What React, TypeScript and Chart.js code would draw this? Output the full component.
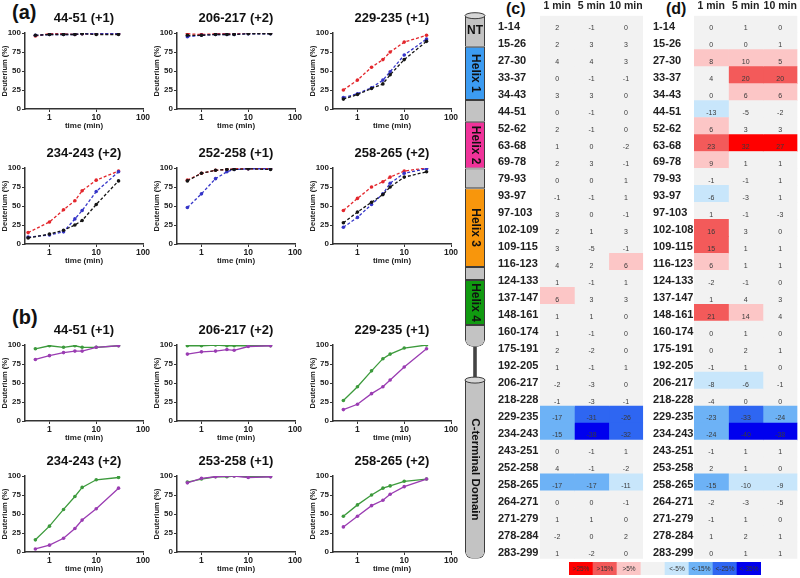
import React, { useEffect, useRef } from 'react';
import { Chart, registerables } from 'chart.js';
Chart.register(...registerables);

// ---------------- data ----------------
const TIMES = [0.5, 1, 2, 3.5, 5, 10, 30];
const TIMES_EARLY = [0.35, 1, 2, 3.5, 5, 10, 30];
const X_TICKS = [1, 10, 100];
const Y_TICKS = [0, 25, 50, 75, 100];

const A_TITLES = ['44-51 (+1)', '206-217 (+2)', '229-235 (+1)', '234-243 (+2)', '252-258 (+1)', '258-265 (+2)'];
const A_RED = [
  [96, 99, 99, 98, 99, 99, 99],
  [99, 98, 99, 99, 99, 100, 100],
  [25, 38, 55, 65, 75, 88, 97],
  [15, 29, 45, 57, 70, 84, 96],
  [84, 93, 97, 98, 99, 99, 99],
  [44, 60, 75, 82, 88, 96, 100],
];
const A_BLUE = [
  [97, 98, 98, 98, 99, 99, 99],
  [95, 97, 98, 98, 98, 99, 99],
  [15, 20, 28, 38, 49, 71, 92],
  [9, 12, 16, 33, 44, 69, 95],
  [48, 66, 86, 95, 98, 99, 99],
  [22, 35, 52, 66, 80, 93, 99],
];
const A_BLACK = [
  [97, 98, 98, 98, 99, 98, 98],
  [97, 97, 98, 98, 98, 99, 99],
  [13, 19, 27, 33, 45, 65, 89],
  [8, 13, 18, 25, 31, 52, 83],
  [83, 93, 97, 98, 98, 99, 98],
  [28, 42, 55, 65, 75, 88, 95],
];

const B_TITLES = ['44-51 (+1)', '206-217 (+2)', '229-235 (+1)', '234-243 (+2)', '253-258 (+1)', '258-265 (+2)'];
const B_GREEN = [
  [95, 99, 97, 99, 97, 97, 99],
  [99, 99, 100, 99, 99, 99, 99],
  [27, 45, 66, 82, 88, 96, 100],
  [16, 34, 56, 73, 85, 95, 98],
  [92, 96, 99, 99, 100, 99, 99],
  [47, 62, 75, 84, 87, 93, 96],
];
const B_PURPLE = [
  [81, 86, 90, 92, 92, 97, 99],
  [88, 91, 92, 94, 93, 98, 99],
  [15, 22, 36, 45, 54, 71, 95],
  [4, 9, 18, 31, 42, 57, 84],
  [91, 97, 99, 100, 100, 98, 99],
  [33, 47, 61, 68, 76, 86, 96],
];

const HEADERS = ['1 min', '5 min', '10 min'];
const PEPTIDES_C = ['1-14', '15-26', '27-30', '33-37', '34-43', '44-51', '52-62', '63-68', '69-78', '79-93', '93-97', '97-103', '102-109', '109-115', '116-123', '124-133', '137-147', '148-161', '160-174', '175-191', '192-205', '206-217', '218-228', '229-235', '234-243', '243-251', '252-258', '258-265', '264-271', '271-279', '278-284', '283-299'];
const C_1MIN = [2, 2, 4, 0, 3, 0, 2, 1, 2, 0, -1, 3, 2, 3, 4, 1, 6, 1, 1, 2, 1, -2, -1, -17, -15, 0, 4, -17, 0, 1, -2, 1];
const C_5MIN = [-1, 3, 4, -1, 3, -1, -1, 0, 3, 0, -1, 0, 1, -5, 2, -1, 3, 1, -1, -2, -1, -3, -3, -31, -38, -1, -1, -17, 0, 1, 0, -2];
const C_10MIN = [0, 3, 3, -1, 0, 0, 0, -2, -1, 1, 1, -1, 3, -1, 6, 1, 3, 0, 0, 0, 1, 0, -1, -26, -32, 1, -2, -11, -1, 0, 2, 0];

const PEPTIDES_D = ['1-14', '15-26', '27-30', '33-37', '34-43', '44-51', '52-62', '63-68', '69-78', '79-93', '93-97', '97-103', '102-108', '109-115', '116-123', '124-133', '137-147', '148-161', '160-174', '175-191', '192-205', '206-217', '218-228', '229-235', '234-243', '243-251', '253-258', '258-265', '264-271', '271-279', '278-284', '283-299'];
const D_1MIN = [0, 0, 8, 4, 0, -13, 6, 23, 9, -1, -6, 1, 16, 15, 6, -2, 1, 21, 0, 0, -1, -8, -4, -23, -24, -1, 2, -15, -2, -1, 1, 0];
const D_5MIN = [1, 0, 10, 20, 6, -5, 3, 32, 1, -1, -3, -1, 3, 1, 1, -1, 4, 14, 1, 2, 1, -6, 0, -33, -40, 1, 1, -10, -3, 1, 2, 1];
const D_10MIN = [0, 1, 5, 20, 6, -2, 3, 27, 1, 1, 1, -3, 0, 1, 1, 0, 3, 4, 0, 1, 0, -1, 0, -24, -38, 1, 0, -9, -5, 0, 1, 1];

const LEGEND_LABELS = ['>25%', '>15%', '>5%', '', '<-5%', '<-15%', '<-25%', '<-35%'];

// schematic segments, in heat-map row units (0 = top of first row, 32 = bottom of last row)
const SEG_LABELS = ['NT', 'Helix 1', 'loop', 'Helix 2', 'loop', 'Helix 3', 'loop', 'Helix 4', 'loop', 'linker', 'C-terminal Domain'];
const SEG_FROM = [0, 1.83, 4.97, 6.25, 9.0, 10.17, 14.8, 15.57, 18.23, 19.5, 21.47];
const SEG_TO = [1.83, 4.97, 6.25, 9.0, 10.17, 14.8, 15.57, 18.23, 19.5, 21.47, 32];

// ---------------- styles ----------------
const SANS = '"Liberation Sans", Arial, sans-serif';
const LEGEND_COLORS = ['#ff0000', '#f35a5a', '#fcc6c6', '#f2f2f2', '#c8e6fb', '#6db2f6', '#2e66f2', '#0000ee'];
const SEG_COLORS: Record<string, string> = {
  NT: '#c3c3c3', loop: '#c3c3c3', 'Helix 1': '#3c9cf2', 'Helix 2': '#f0339a', 'Helix 3': '#f8960c',
  'Helix 4': '#109a10', linker: '#444444', 'C-terminal Domain': '#c3c3c3',
};
const RED = '#e3262c';
const BLUE = '#3535c8';
const BLACK = '#151515';
const GREEN = '#3c9a3c';
const PURPLE = '#9a3cb2';

function classOf(v: number) {
  if (v >= 25) return 0;
  if (v >= 15) return 1;
  if (v >= 5) return 2;
  if (v <= -35) return 7;
  if (v <= -25) return 6;
  if (v <= -15) return 5;
  if (v < -5) return 4;
  return 3;
}

const panelTitlePlugin = {
  id: 'panelTitle',
  afterDraw(chart: any) {
    const { ctx, chartArea } = chart;
    ctx.save();
    ctx.font = `bold 13px ${SANS}`;
    ctx.fillStyle = '#111';
    ctx.textAlign = 'center';
    ctx.textBaseline = 'middle';
    ctx.fillText(chart.config.options.panelTitle, (chartArea.left + chartArea.right) / 2, chartArea.top - 15);
    ctx.restore();
  },
};

function lineConfig(title: string, times: number[], series: { values: number[]; color: string; dashed: boolean }[]) {
  const axisGrid = { display: true, drawOnChartArea: false, drawTicks: true, tickLength: 3, color: '#333', lineWidth: 1 };
  const axisBorder = { display: true, color: '#333', width: 1.5 };
  return {
    type: 'line',
    data: {
      datasets: series.map((s) => ({
        data: times.map((t, i) => ({ x: t, y: s.values[i] })),
        borderColor: s.color,
        backgroundColor: s.color,
        borderWidth: 1.3,
        borderDash: s.dashed ? [3, 2] : [],
        pointRadius: 1.8,
        pointBorderWidth: 0,
        pointHoverRadius: 0,
        tension: 0,
        fill: false,
      })),
    },
    options: {
      panelTitle: title,
      animation: false,
      responsive: false,
      events: [],
      layout: { padding: { left: 0, right: 14, top: 28, bottom: 0 } },
      plugins: { legend: { display: false }, tooltip: { enabled: false }, title: { display: false } },
      scales: {
        x: {
          type: 'logarithmic',
          min: 0.3,
          max: 100,
          afterBuildTicks: (s: any) => { s.ticks = X_TICKS.map((v) => ({ value: v })); },
          afterFit: (s: any) => { s.height = 22; },
          ticks: { callback: (v: any) => String(v), color: '#222', font: { family: SANS, size: 8.5, weight: 'bold' }, padding: 1, maxRotation: 0, autoSkip: false },
          grid: axisGrid,
          border: axisBorder,
          title: { display: true, text: 'time (min)', color: '#222', font: { family: SANS, size: 8, weight: 'bold' }, padding: 0 },
        },
        y: {
          min: 0,
          max: 100,
          afterBuildTicks: (s: any) => { s.ticks = Y_TICKS.map((v) => ({ value: v })); },
          afterFit: (s: any) => { s.width = 25; },
          ticks: { color: '#222', font: { family: SANS, size: 8, weight: 'bold' }, padding: 1 },
          grid: axisGrid,
          border: axisBorder,
          title: { display: true, text: 'Deuterium (%)', color: '#222', font: { family: SANS, size: 7.5, weight: 'bold' }, padding: 0 },
        },
      },
    },
    plugins: [panelTitlePlugin],
  };
}

const cellTextPlugin = {
  id: 'cellText',
  afterDatasetsDraw(chart: any) {
    const ctx = chart.ctx;
    const xs = chart.scales.x;
    const ys = chart.scales.y;
    const cols = chart.config.options.cellValues as number[][];
    ctx.save();
    ctx.fillStyle = '#3a3a3a';
    ctx.font = `7px ${SANS}`;
    ctx.textAlign = 'center';
    ctx.textBaseline = 'middle';
    cols.forEach((col, c) => {
      col.forEach((v, r) => {
        ctx.fillText(String(v), xs.getPixelForValue(c + 0.5), ys.getPixelForValue(r) + 4);
      });
    });
    ctx.restore();
  },
};

function heatConfig(labels: string[], cols: number[][], yWidth: number, padRight: number) {
  return {
    type: 'bar',
    data: {
      labels,
      datasets: cols.map((col, c) => ({
        data: col.map(() => [c, c + 1]),
        backgroundColor: col.map((v) => LEGEND_COLORS[classOf(v)]),
        borderWidth: 0,
        grouped: false,
        barPercentage: 1,
        categoryPercentage: 1,
      })),
    },
    options: {
      cellValues: cols,
      indexAxis: 'y',
      animation: false,
      responsive: false,
      events: [],
      layout: { padding: { left: 0, right: padRight, top: 0, bottom: 19.2 } },
      plugins: { legend: { display: false }, tooltip: { enabled: false } },
      scales: {
        x: {
          type: 'linear',
          position: 'top',
          min: 0,
          max: 3,
          afterBuildTicks: (s: any) => { s.ticks = [0.5, 1.5, 2.5].map((v) => ({ value: v })); },
          afterFit: (s: any) => { s.height = 15.7; },
          ticks: { callback: (_v: any, i: number) => HEADERS[i], color: '#222', font: { family: SANS, size: 10.5, weight: 'bold' }, padding: 3, maxRotation: 0, autoSkip: false },
          grid: { display: false, drawTicks: false },
          border: { display: false },
        },
        y: {
          type: 'category',
          afterFit: (s: any) => { s.width = yWidth; },
          ticks: { crossAlign: 'far', labelOffset: 2.5, color: '#222', font: { family: SANS, size: 11, weight: 'bold' }, padding: 0, autoSkip: false },
          grid: { display: false, drawTicks: false },
          border: { display: false },
        },
      },
    },
    plugins: [cellTextPlugin],
  };
}

const legendTextPlugin = {
  id: 'legendText',
  afterDatasetsDraw(chart: any) {
    const ctx = chart.ctx;
    const xs = chart.scales.x;
    const ys = chart.scales.y;
    ctx.save();
    ctx.fillStyle = '#333';
    ctx.font = `6.5px ${SANS}`;
    ctx.textAlign = 'center';
    ctx.textBaseline = 'middle';
    LEGEND_LABELS.forEach((t, i) => {
      ctx.fillText(t, xs.getPixelForValue(i), ys.getPixelForValue(0.5) + 1);
    });
    ctx.restore();
  },
};

function legendConfig() {
  return {
    type: 'bar',
    data: {
      labels: LEGEND_LABELS,
      datasets: [{
        data: LEGEND_LABELS.map(() => [0, 1]),
        backgroundColor: LEGEND_LABELS.map((_, i) => LEGEND_COLORS[i]),
        borderWidth: 0,
        barPercentage: 1,
        categoryPercentage: 1,
      }],
    },
    options: {
      animation: false,
      responsive: false,
      events: [],
      layout: { padding: 0 },
      plugins: { legend: { display: false }, tooltip: { enabled: false } },
      scales: { x: { display: false }, y: { display: false, min: 0, max: 1 } },
    },
    plugins: [legendTextPlugin],
  };
}

const schematicPlugin = {
  id: 'schematic',
  afterDatasetsDraw(chart: any) {
    const ctx = chart.ctx;
    ctx.save();
    chart.data.datasets.forEach((ds: any, i: number) => {
      const bar = chart.getDatasetMeta(i).data[0];
      const { x, y, base, width } = bar.getProps(['x', 'y', 'base', 'width'], true);
      const top = Math.min(y, base);
      const bottom = Math.max(y, base);
      const name = ds.label;
      const prev = i > 0 ? chart.data.datasets[i - 1].label : null;
      if (name !== 'linker' && (prev === null || prev === 'linker')) {
        ctx.beginPath();
        ctx.ellipse(x, top, width / 2, 3, 0, 0, Math.PI * 2);
        ctx.fillStyle = '#d6d6d6';
        ctx.fill();
        ctx.lineWidth = 1;
        ctx.strokeStyle = '#3c3c3c';
        ctx.stroke();
      }
      ctx.fillStyle = '#111';
      ctx.textAlign = 'center';
      ctx.textBaseline = 'middle';
      const cy = (top + bottom) / 2;
      if (name === 'NT') {
        ctx.font = `bold 12px ${SANS}`;
        ctx.fillText(name, x, cy - 1);
      } else if (name.startsWith('Helix') || name === 'C-terminal Domain') {
        ctx.save();
        ctx.translate(x + 0.5, cy);
        ctx.rotate(Math.PI / 2);
        ctx.font = name === 'C-terminal Domain' ? `bold 11.5px ${SANS}` : `bold 12px ${SANS}`;
        ctx.fillText(name, 0, 0);
        ctx.restore();
      }
    });
    ctx.restore();
  },
};

function schematicConfig() {
  return {
    type: 'bar',
    data: {
      labels: ['protein'],
      datasets: SEG_LABELS.map((name, i) => {
        const next = SEG_LABELS[i + 1];
        const isEnd = name !== 'linker' && (next === undefined || next === 'linker');
        return {
          label: name,
          data: [[SEG_FROM[i], SEG_TO[i]]],
          backgroundColor: SEG_COLORS[name],
          borderColor: '#3c3c3c',
          borderWidth: name === 'linker' ? 0 : 1,
          borderSkipped: false,
          borderRadius: isEnd ? { topLeft: 0, topRight: 0, bottomLeft: 7, bottomRight: 7 } : 0,
          grouped: false,
          barPercentage: name === 'linker' ? 0.09 : 0.5,
          categoryPercentage: 1,
        };
      }),
    },
    options: {
      animation: false,
      responsive: false,
      events: [],
      layout: { padding: { top: 15.7, bottom: 19.2, left: 0, right: 0 } },
      plugins: { legend: { display: false }, tooltip: { enabled: false } },
      scales: {
        x: { display: false },
        y: { display: false, reverse: true, min: 0, max: 32 },
      },
    },
    plugins: [schematicPlugin],
  };
}

function ChartBox({ left, top, width, height, make }: { left: number; top: number; width: number; height: number; make: () => any }) {
  const ref = useRef<HTMLCanvasElement | null>(null);
  useEffect(() => {
    const chart = new Chart(ref.current as HTMLCanvasElement, make());
    return () => chart.destroy();
  }, []);
  return <canvas ref={ref} width={width} height={height} style={{ position: 'absolute', left, top, width, height }} />;
}

const COL_LEFT = [0, 152, 308];
const ROW_TOP_A = [5, 140];
const ROW_TOP_B = [317, 448];

const labelStyle = (left: number, top: number, size: number): React.CSSProperties => ({
  position: 'absolute', left, top, fontFamily: SANS, fontWeight: 'bold', fontSize: size, lineHeight: `${size + 2}px`, color: '#111',
});

export default function App() {
  const aCharts = A_TITLES.map((t, i) => (
    <ChartBox
      key={'a' + i}
      left={COL_LEFT[i % 3]}
      top={ROW_TOP_A[Math.floor(i / 3)]}
      width={157}
      height={126}
      make={() => lineConfig(t, i === 3 ? TIMES_EARLY : TIMES, [
        { values: A_BLACK[i], color: BLACK, dashed: true },
        { values: A_BLUE[i], color: BLUE, dashed: true },
        { values: A_RED[i], color: RED, dashed: true },
      ])}
    />
  ));
  const bCharts = B_TITLES.map((t, i) => (
    <ChartBox
      key={'b' + i}
      left={COL_LEFT[i % 3]}
      top={ROW_TOP_B[Math.floor(i / 3)]}
      width={157}
      height={126}
      make={() => lineConfig(t, TIMES, [
        { values: B_PURPLE[i], color: PURPLE, dashed: false },
        { values: B_GREEN[i], color: GREEN, dashed: false },
      ])}
    />
  ));
  return (
    <div style={{ position: 'absolute', left: 0, top: 0, width: 800, height: 578, background: '#fff', overflow: 'hidden' }}>
      <div style={labelStyle(12, 1, 20)}>(a)</div>
      <div style={labelStyle(12, 306, 20)}>(b)</div>
      <div style={labelStyle(506, 0, 16)}>(c)</div>
      <div style={labelStyle(666, 0, 16)}>(d)</div>
      {aCharts}
      {bCharts}
      <ChartBox left={455} top={0} width={40} height={578} make={schematicConfig} />
      <ChartBox left={498} top={0} width={148} height={578} make={() => heatConfig(PEPTIDES_C, [C_1MIN, C_5MIN, C_10MIN], 42, 2.5)} />
      <ChartBox left={653} top={0} width={147} height={578} make={() => heatConfig(PEPTIDES_D, [D_1MIN, D_5MIN, D_10MIN], 41, 1)} />
      <ChartBox left={569} top={562} width={192} height={13} make={legendConfig} />
    </div>
  );
}
